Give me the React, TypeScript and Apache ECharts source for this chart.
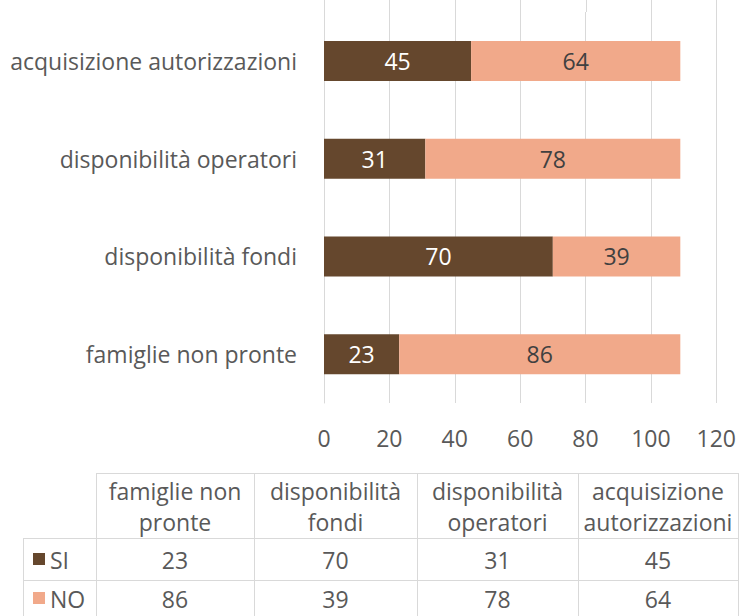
import React, { useEffect, useRef } from "react";
import * as echarts from "echarts";

const categories = [
  "famiglie non pronte",
  "disponibilità fondi",
  "disponibilità operatori",
  "acquisizione autorizzazioni",
];
const siValues = [23, 70, 31, 45];
const noValues = [86, 39, 78, 64];
const seriesNames = ["SI", "NO"];
const xTickValues = [0, 20, 40, 60, 80, 100, 120];

const SI_COLOR = "#65472d";
const NO_COLOR = "#f1a98a";
const TEXT = "#595959";
const GRID = "#d9d9d9";
const FONT = "Open Sans";
const FS = 23;

// header text for the data table: break before the last word
const wrapHeader = (s: string) => {
  const i = s.lastIndexOf(" ");
  return i < 0 ? s : s.slice(0, i) + "\n" + s.slice(i + 1);
};

export default function App() {
  const ref = useRef<HTMLDivElement>(null);

  useEffect(() => {
    document.body.style.margin = "0";
    if (!ref.current) return;
    const chart = echarts.init(ref.current, null, { renderer: "svg" });

    const gridLeft = 324;
    const gridTop = 12;
    const gridBottomY = 403;

    // Table layout
    const colX = [96, 254, 417, 578, 738];
    const legendLeft = 23;
    const rowY = [473, 538, 580, 616];
    const graphics: any[] = [];
    const hline = (x1: number, x2: number, y: number) =>
      graphics.push({
        type: "line",
        shape: { x1, y1: y + 0.5, x2, y2: y + 0.5 },
        style: { stroke: GRID, lineWidth: 1 },
        silent: true,
      });
    const vline = (x: number, y1: number, y2: number) =>
      graphics.push({
        type: "line",
        shape: { x1: x + 0.5, y1, x2: x + 0.5, y2 },
        style: { stroke: GRID, lineWidth: 1 },
        silent: true,
      });
    hline(colX[0], colX[4] + 1, rowY[0]);
    hline(legendLeft, colX[4] + 1, rowY[1]);
    hline(legendLeft, colX[4] + 1, rowY[2]);
    vline(legendLeft, rowY[1], rowY[3]);
    colX.forEach((x) => vline(x, rowY[0], rowY[3]));

    categories.forEach((cat, i) => {
      const cx = (colX[i] + colX[i + 1]) / 2;
      graphics.push({
        type: "text",
        x: cx,
        y: (rowY[0] + rowY[1]) / 2 + 1,
        style: {
          text: wrapHeader(cat),
          align: "center",
          verticalAlign: "middle",
          fill: TEXT,
          fontSize: FS,
          fontFamily: FONT,
          lineHeight: 31,
        },
      });
      [siValues, noValues].forEach((vals, r) => {
        graphics.push({
          type: "text",
          x: cx,
          y: (rowY[r + 1] + rowY[r + 2]) / 2 + 1,
          style: {
            text: String(vals[i]),
            align: "center",
            verticalAlign: "middle",
            fill: TEXT,
            fontSize: FS,
            fontFamily: FONT,
          },
        });
      });
    });
    seriesNames.forEach((name, r) => {
      const cy = (rowY[r + 1] + rowY[r + 2]) / 2;
      graphics.push({
        type: "rect",
        shape: { x: 33, y: cy - 6, width: 12, height: 12 },
        style: { fill: r === 0 ? SI_COLOR : NO_COLOR },
      });
      graphics.push({
        type: "text",
        x: 50,
        y: cy + 1,
        style: {
          text: name,
          align: "left",
          verticalAlign: "middle",
          fill: TEXT,
          fontSize: FS,
          fontFamily: FONT,
        },
      });
    });

    const labelStyle = (color: string) => ({
      show: true,
      position: "inside",
      color,
      fontSize: FS,
      fontFamily: FONT,
    });

    const option: any = {
      animation: false,
      backgroundColor: "#ffffff",
      textStyle: { fontFamily: FONT },
      grid: {
        left: gridLeft,
        right: 21,
        top: gridTop,
        height: gridBottomY - gridTop,
        containLabel: false,
      },
      xAxis: {
        type: "value",
        min: 0,
        max: 120,
        interval: 20,
        axisLine: { show: false },
        axisTick: { show: false },
        splitLine: { show: true, lineStyle: { color: GRID, width: 1 } },
        axisLabel: { color: TEXT, fontSize: FS, fontFamily: FONT, margin: 23 },
      },
      yAxis: {
        type: "category",
        data: categories,
        axisLine: { show: true, lineStyle: { color: GRID, width: 1 } },
        axisTick: { show: false },
        axisLabel: { color: TEXT, fontSize: FS, fontFamily: FONT, margin: 27 },
      },
      series: [
        {
          name: seriesNames[0],
          type: "bar",
          stack: "total",
          data: siValues,
          barWidth: 40,
          itemStyle: { color: SI_COLOR },
          label: labelStyle("#ffffff"),
        },
        {
          name: seriesNames[1],
          type: "bar",
          stack: "total",
          data: noValues,
          barWidth: 40,
          itemStyle: { color: NO_COLOR },
          label: labelStyle("#404040"),
        },
      ],
      graphic: graphics,
    };
    chart.setOption(option);

    // extend vertical gridlines up to the top edge, using the axis scale
    const ext = xTickValues.map((v) => {
      const x = chart.convertToPixel({ xAxisIndex: 0 }, v) as number;
      return {
        type: "line",
        shape: { x1: Math.round(x) + 0.5, y1: 0, x2: Math.round(x) + 0.5, y2: gridTop },
        style: { stroke: GRID, lineWidth: 1 },
        silent: true,
      };
    });
    chart.setOption({ graphic: [...graphics, ...ext] });

    return () => chart.dispose();
  }, []);

  return <div ref={ref} style={{ width: 739, height: 616 }} />;
}
